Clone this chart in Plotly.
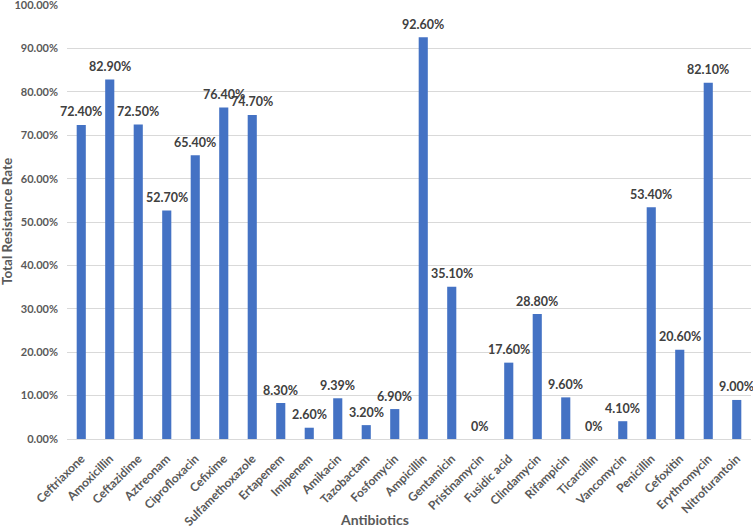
import plotly.graph_objects as go

antibiotics = ["Ceftriaxone", "Amoxicillin", "Ceftazidime", "Aztreonam", "Ciprofloxacin",
               "Cefixime", "Sulfamethoxazole", "Ertapenem", "Imipenem", "Amikacin",
               "Tazobactam", "Fosfomycin", "Ampicillin", "Gentamicin", "Pristinamycin",
               "Fusidic acid", "Clindamycin", "Rifampicin", "Ticarcillin", "Vancomycin",
               "Penicillin", "Cefoxitin", "Erythromycin", "Nitrofurantoin"]
resistance_pct = [72.40, 82.90, 72.50, 52.70, 65.40, 76.40, 74.70, 8.30, 2.60, 9.39,
                  3.20, 6.90, 92.60, 35.10, 0, 17.60, 28.80, 9.60, 0, 4.10,
                  53.40, 20.60, 82.10, 9.00]
y_ticks = [i / 10 for i in range(11)]

values = [v / 100 for v in resistance_pct]
labels = [f"{v:.2f}%" if v else "0%" for v in resistance_pct]

FONT = "Lato"
fig = go.Figure(go.Bar(
    x=antibiotics, y=values,
    marker=dict(color="#4472C4", line=dict(width=0)),
    width=0.32, hoverinfo="x+y",
))
for name, v, lab in zip(antibiotics, values, labels):
    fig.add_annotation(x=name, y=v, text=f"<b>{lab}</b>", showarrow=False,
                       xanchor="center", yanchor="middle", yshift=13,
                       font=dict(family=FONT, size=12.5, color="#404040"))
fig.add_annotation(text="<b>Total Resistance Rate</b>", textangle=-90,
                   xref="paper", yref="paper", x=0, y=0.5, xanchor="center", yanchor="middle",
                   xshift=-60, showarrow=False,
                   font=dict(family=FONT, size=13.5, color="#595959"))
fig.add_annotation(text="<b>Antibiotics</b>",
                   xref="paper", yref="paper", x=0.45, y=0, xanchor="center", yanchor="middle",
                   yshift=-80, showarrow=False,
                   font=dict(family=FONT, size=14, color="#595959"))
fig.update_layout(
    width=753, height=527,
    margin=dict(l=67, r=2, t=5, b=88, autoexpand=False),
    paper_bgcolor="white", plot_bgcolor="white",
    showlegend=False,
    font=dict(family=FONT, color="#595959"),
    bargap=0.68,
)
fig.update_yaxes(
    range=[0, 1.0005], tickvals=y_ticks, tickformat=".2%",
    showgrid=True, gridcolor="#D9D9D9", gridwidth=1,
    zeroline=True, zerolinecolor="#D9D9D9", zerolinewidth=1,
    showline=False, ticks="", automargin=False,
    ticklabeloverflow="allow", ticklabelstandoff=8,
    tickfont=dict(family=FONT, size=11, color="#595959", weight="bold"),
)
fig.update_xaxes(
    range=[-0.5, len(antibiotics) - 0.5],
    tickangle=-45, showgrid=False, showline=False, automargin=False,
    ticks="outside", ticklen=7, tickcolor="rgba(0,0,0,0)",
    ticklabeloverflow="allow",
    tickfont=dict(family=FONT, size=12, color="#595959", weight="bold"),
)
fig.write_html("out.html", config={"displayModeBar": False},
               post_script="document.body.style.margin='0';document.body.style.overflow='hidden';")
